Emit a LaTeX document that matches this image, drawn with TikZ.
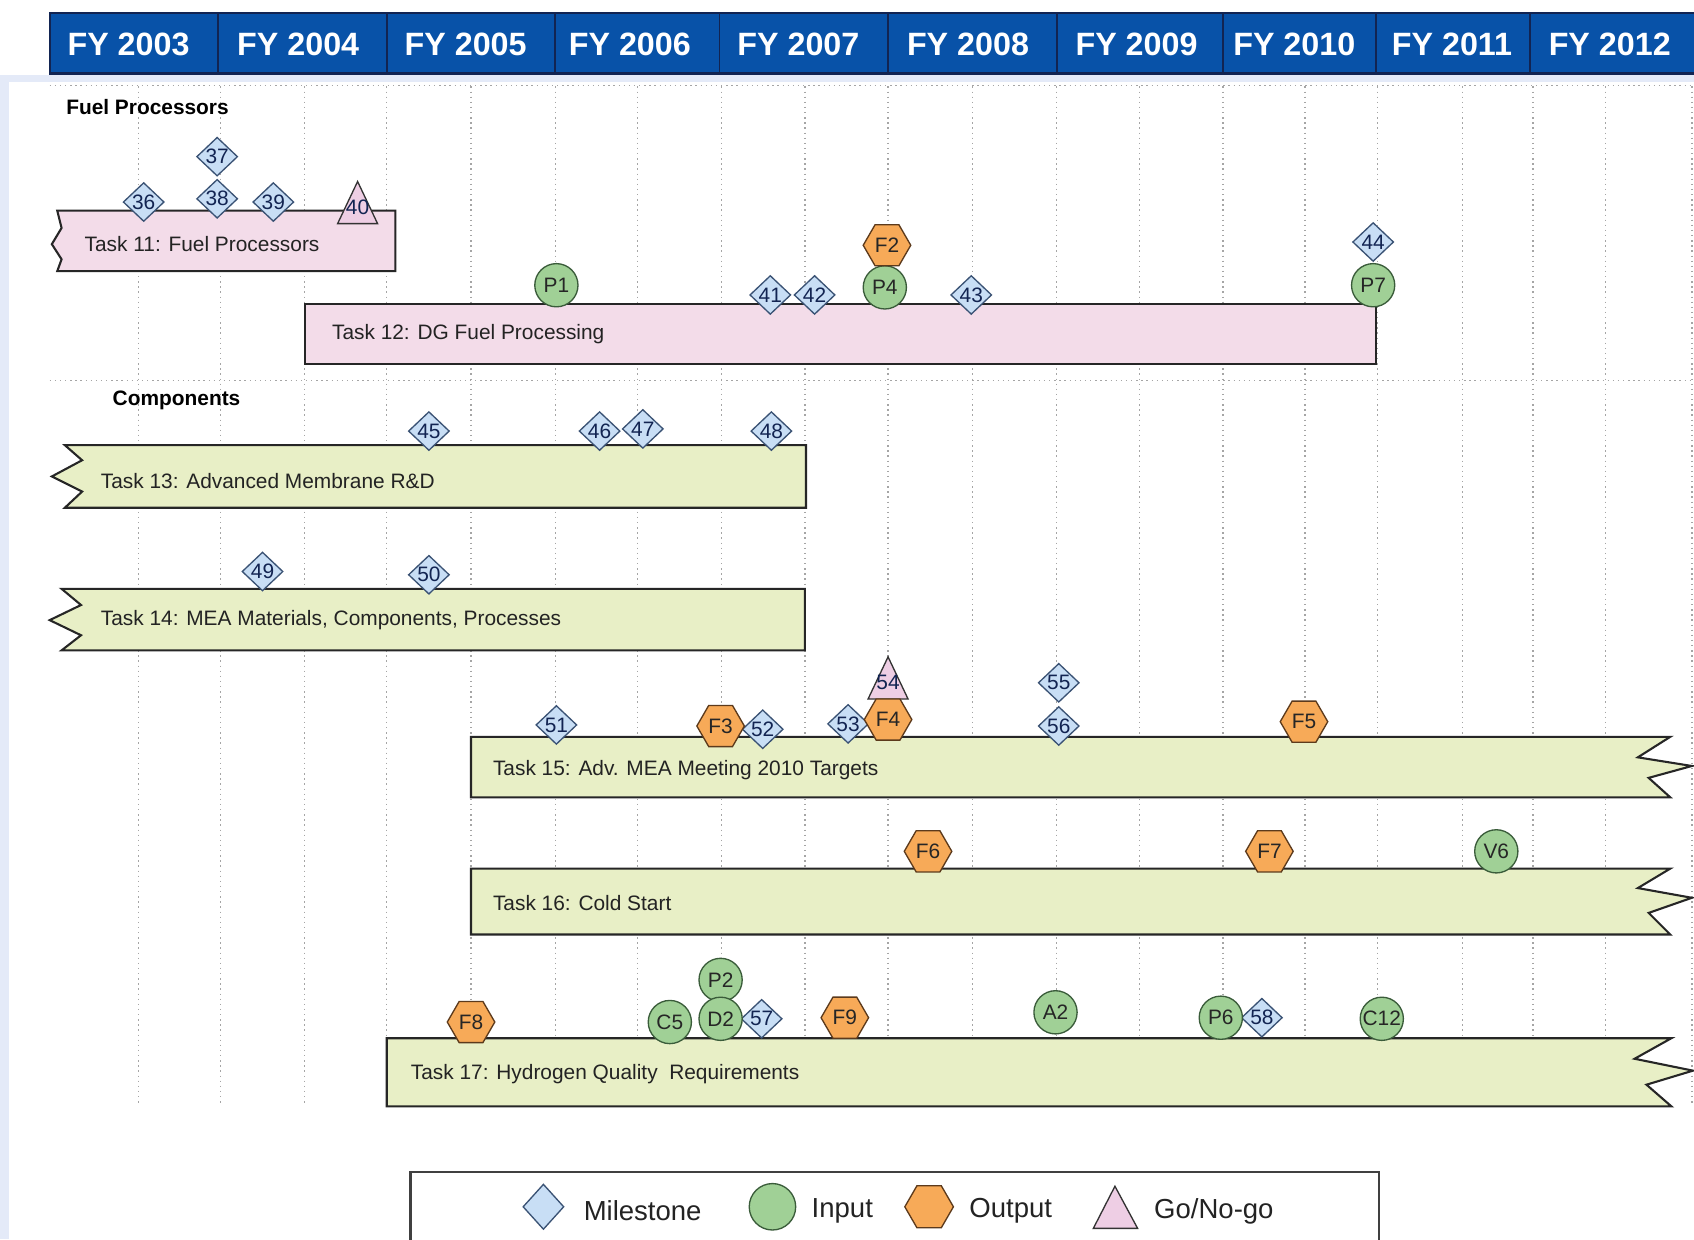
\documentclass[tikz,border=0pt]{standalone}
\usepackage{fontspec}
\setmainfont{Liberation Sans}
\usepackage{xcolor}
\usepackage{tikz}
\usetikzlibrary{shapes.geometric,calc}
\definecolor{fyblue} {RGB} {8, 82, 168}
\definecolor{fyborder} {RGB} {18, 36, 82}
\definecolor{paleblue} {RGB} {228, 234, 248}
\definecolor{taskpink} {RGB} {243, 220, 233}
\definecolor{taskgreen} {RGB} {232, 239, 198}
\definecolor{msblue} {RGB} {200, 222, 245}
\definecolor{msborder} {RGB} {58, 82, 116}
\definecolor{ingreen} {RGB} {160, 208, 150}
\definecolor{inborder} {RGB} {58, 92, 58}
\definecolor{outorange} {RGB} {247, 170, 88}
\definecolor{outborder} {RGB} {92, 58, 28}
\definecolor{gopink} {RGB} {238, 206, 228}
\definecolor{gridgray} {RGB} {165, 165, 165}
\definecolor{textgray} {RGB} {35, 35, 35}
\tikzstyle{fyhead}=[text=white, font=\fontsize{17}{20}\selectfont\bfseries]
\tikzstyle{gridline}=[gridgray, dotted, line width=0.7pt]
\tikzstyle{section}=[anchor=west, inner sep=0pt, text=black, font=\fontsize{11}{13}\selectfont\bfseries]
\tikzstyle{task}=[draw=black!85, line width=1.1pt, line join=miter]
\tikzstyle{tasklabel}=[anchor=west, inner sep=0pt, text=textgray, font=\fontsize{11}{13}\selectfont]
\tikzstyle{milestone}=[diamond, draw=msborder, fill=msblue, line width=0.7pt, inner sep=0pt,
  minimum width=0.76cm, minimum height=0.72cm, text=fyborder, font=\fontsize{11}{13}\selectfont]
\tikzstyle{inputmark}=[circle, draw=inborder, fill=ingreen, line width=0.7pt, inner sep=0pt,
  minimum size=0.8cm, text=black!85, font=\fontsize{11}{13}\selectfont]
\tikzstyle{outputmark}=[regular polygon, regular polygon sides=6, draw=outborder, fill=outorange,
  line width=0.7pt, inner sep=0pt, minimum size=0.88cm, text=black!85, font=\fontsize{11}{13}\selectfont]
\tikzstyle{gonogo}=[draw=black!80, fill=gopink, line width=0.7pt, line join=miter]
\tikzstyle{marktext}=[inner sep=0pt, text=fyborder, font=\fontsize{11}{13}\selectfont]
\tikzstyle{legendtext}=[anchor=west, inner sep=0pt, text=textgray, font=\fontsize{14.5}{17}\selectfont]
% go/no-go triangle: name, text centre, label
\newcommand{\gonogomark}[3]{%
  \filldraw[gonogo] (#2) ++(0,-24) -- ++(-18.5,39) -- ++(37,0) -- cycle;
  \node[marktext] (#1) at (#2) {#3};}

\begin{document}
\begin{tikzpicture}[x=0.02cm, y=-0.02cm]
\useasboundingbox (0,0) rectangle (1568,1147);
\fill[white] (0,0) rectangle (1568,1147);
\fill[paleblue] (0,69) rectangle (1568,76);
\fill[paleblue] (0,69) rectangle (8,1147);

% year header
\fill[fyblue] (46,12) rectangle (1570,68);
\draw[fyborder, line width=1.2pt] (46,12) rectangle (1570,68);
\foreach \x in {202,358,514,666,822,978,1132,1274,1416}
  \draw[fyborder, line width=1pt] (\x,12) -- (\x,68);
\foreach \x/\yr in {119/2003,276/2004,431/2005,583/2006,739/2007,896/2008,1052/2009,1198/2010,1344/2011,1490/2012}
  \node[fyhead] (fy\yr) at (\x,41) {FY \yr};

% grid
\draw[gridline] (46,79) -- (1568,79);
\draw[gridline] (46,352) -- (1568,352);
\foreach \x in {128,204,282,358,436,514,590,668,745,822,900,978,1055,1132,1208,1275,1354,1419,1486,1566}
  \draw[gridline] (\x,80) -- (\x,1021);

% sections
\node[section] (fuel) at (61,99) {Fuel Processors};
\node[section] (comp) at (104,371) {Components};

% task bars
\filldraw[task, fill=taskpink] (53,195) -- (366,195) -- (366,251) -- (53,251) -- (57,240) -- (48,226) -- (57,211) -- cycle;
\filldraw[task, fill=taskpink] (282,281) rectangle (1274,337);
\filldraw[task, fill=taskgreen] (60,412) -- (746,412) -- (746,470) -- (60,470) -- (76,455) -- (48,441) -- (76,426) -- cycle;
\filldraw[task, fill=taskgreen] (57,545) -- (745,545) -- (745,602) -- (57,602) -- (75,588) -- (46,574) -- (75,560) -- cycle;
\filldraw[task, fill=taskgreen] (436,682) -- (1546,682) -- (1516,701) -- (1566,709) -- (1526,720) -- (1546,738) -- (436,738) -- cycle;
\filldraw[task, fill=taskgreen] (436,804) -- (1546,804) -- (1516,822) -- (1566,831) -- (1526,845) -- (1546,865) -- (436,865) -- cycle;
\filldraw[task, fill=taskgreen] (358,961) -- (1547,961) -- (1513,980) -- (1567,991) -- (1524,1004) -- (1547,1024) -- (358,1024) -- cycle;

\node[tasklabel] (t11) at (78,226) {Task 11: Fuel Processors};
\node[tasklabel] (t12) at (307,309) {Task 12: DG Fuel Processing};
\node[tasklabel] (t13) at (93,445) {Task 13: Advanced Membrane R\&D};
\node[tasklabel] (t14) at (93,574) {Task 14: MEA Materials, Components, Processes};
\node[tasklabel] (t15) at (456,713) {Task 15: Adv. MEA Meeting 2010 Targets};
\node[tasklabel] (t16) at (456,836) {Task 16: Cold Start};
\node[tasklabel] (t17) at (380,994) {Task 17: Hydrogen Quality~ Requirements};

% go/no-go
\gonogomark{g40}{331,192}{40}
\gonogomark{g54}{822,632}{54}

% milestones
\foreach \n/\x/\y in {37/201/145,38/201/184,36/133/187,39/253/187,41/713/273,42/754/273,43/899/273,44/1271/224,
    45/397/399,46/555/399,47/595/397,48/714/399,49/243/529,50/397/532,51/515/671,52/706/675,53/785/670,
    55/980/632,56/980/672,57/705/943,58/1168/942}
  \node[milestone] (m\n) at (\x,\y) {\n};

% inputs
\foreach \n/\x/\y in {P1/515/264,P4/819/266,P7/1271/264,V6/1385/788,C5/620/946,P2/667/907,D2/667/943,
    A2/977/937,P6/1130/942,C12/1279/943}
  \node[inputmark] (i\n) at (\x,\y) {\n};

% outputs
\foreach \n/\x/\y in {F2/821/227,F3/667/672,F4/822/666,F5/1207/668,F6/859/788,F7/1175/788,F8/436/946,F9/782/942}
  \node[outputmark] (o\n) at (\x,\y) {\n};

% legend
\draw[black!75, line width=1.1pt] (380,1150) -- (380,1085) -- (1276,1085) -- (1276,1150);
\node[milestone, minimum width=0.76cm, minimum height=0.84cm] (lgms) at (503,1117) {};
\node[legendtext] (lgmst) at (540,1121) {Milestone};
\node[inputmark, minimum size=0.86cm] (lgin) at (715,1117) {};
\node[legendtext] (lgint) at (751,1121) {Input};
\node[outputmark, minimum size=0.9cm] (lgout) at (860,1117) {};
\node[legendtext] (lgoutt) at (897,1121) {Output};
\filldraw[gonogo] (1032,1098) -- (1012,1137) -- (1053,1137) -- cycle;
\node[legendtext] (lggot) at (1068,1121) {Go/No-go};
\end{tikzpicture}
\end{document}
